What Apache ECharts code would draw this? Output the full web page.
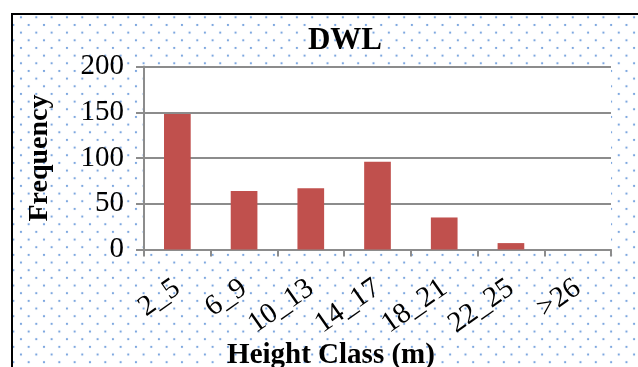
<!DOCTYPE html>
<html>
<head>
<meta charset="utf-8">
<script src="https://cdn.jsdelivr.net/npm/echarts@6/dist/echarts.min.js"></script>
<style>
  html, body { margin: 0; padding: 0; background: #fff; }
  #wrap { position: relative; width: 638px; height: 367px; overflow: hidden; }
  #panel {
    position: absolute; left: 11px; top: 13px; width: 700px; height: 400px;
    border-left: 2px solid #000; border-top: 2px solid #000;
    background-color: #fff;
    background-image:
      radial-gradient(circle, #6d9cdb 0.6px, rgba(109,156,219,0.3) 1.1px, transparent 1.6px),
      radial-gradient(circle, #6d9cdb 0.6px, rgba(109,156,219,0.3) 1.1px, transparent 1.6px);
    background-size: 15.33px 15.33px, 15.33px 15.33px;
    background-position: 0.3px -5.4px, 8px 2.3px;
  }
  #chart { position: absolute; left: 0; top: 0; width: 638px; height: 367px; }
</style>
</head>
<body>
<div id="wrap">
  <div id="panel"></div>
  <div id="chart"></div>
</div>
<script>
// Height classes and tree counts for DWL
const heightClasses = ['2_5', '6_9', '10_13', '14_17', '18_21', '22_25', '>26'];
const frequency = [148, 64, 67, 96, 35, 7, 0];
const yTicks = { min: 0, max: 200, step: 50 };

const serif = '"Liberation Serif", "Times New Roman", serif';
const gridGray = '#8c8c8c';

const chart = echarts.init(document.getElementById('chart'), null, { renderer: 'canvas' });
chart.setOption({
  backgroundColor: 'transparent',
  animation: false,
  title: [
    {
      text: 'DWL',
      left: 340, top: 20, textAlign: 'center',
      textStyle: { fontFamily: serif, fontWeight: 'bold', fontSize: 31, color: '#000' }
    },
    {
      text: 'Height Class (m)',
      left: 326, top: 336, textAlign: 'center',
      textStyle: { fontFamily: serif, fontWeight: 'bold', fontSize: 29, color: '#000' }
    }
  ],
  grid: {
    left: 144, right: 27, top: 66.5, bottom: 117.5,
    show: true, backgroundColor: '#fff', borderWidth: 0
  },
  xAxis: {
    type: 'category',
    data: heightClasses,
    axisLine: { lineStyle: { color: gridGray, width: 2 } },
    axisTick: { show: true, length: 7, lineStyle: { color: gridGray, width: 2 } },
    axisLabel: {
      rotate: 35, margin: 36, interval: 0,
      fontFamily: serif, fontSize: 29, color: '#000'
    },
    splitLine: { show: false }
  },
  yAxis: {
    type: 'value',
    min: yTicks.min, max: yTicks.max, interval: yTicks.step,
    name: 'Frequency',
    nameLocation: 'middle', nameRotate: 90, nameGap: 90,
    nameTextStyle: { fontFamily: serif, fontWeight: 'bold', fontSize: 28, color: '#000' },
    axisLine: { show: true, lineStyle: { color: gridGray, width: 2 } },
    axisTick: { show: true, length: 8, lineStyle: { color: gridGray, width: 2 } },
    axisLabel: { margin: 20, fontFamily: serif, fontSize: 29, color: '#000' },
    splitLine: { show: true, lineStyle: { color: gridGray, width: 2 } }
  },
  series: [{
    type: 'bar',
    data: frequency,
    barWidth: '40%',
    itemStyle: { color: '#c0504d' }
  }]
});
</script>
</body>
</html>
